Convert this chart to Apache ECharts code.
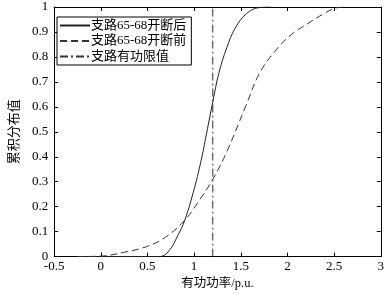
<!DOCTYPE html>
<html>
<head>
<meta charset="utf-8">
<script src="https://cdn.jsdelivr.net/npm/echarts@6/dist/echarts.min.js"></script>
<style>
  html, body { margin: 0; padding: 0; background: #fff; }
  #chart { width: 387px; height: 295px; }
</style>
</head>
<body>
<div id="chart"></div>
<script>
const seriesNames = ['支路65-68开断后', '支路65-68开断前', '支路有功限值']

// 开断后 累积分布 [有功功率, 累积概率]
const afterCurve = [
  [-0.25, 0], [0.5, 0], [0.63, 0], [0.73, 0.023], [0.83, 0.088], [0.9, 0.146],
  [0.99, 0.256], [1.075, 0.385], [1.144, 0.514], [1.2, 0.62], [1.265, 0.735],
  [1.35, 0.837], [1.44, 0.915], [1.56, 0.973], [1.7, 0.998], [1.82, 1]
]

// 开断前
const beforeCurve = [
  [-0.25, 0], [0, 0.002], [0.245, 0.017], [0.49, 0.04], [0.69, 0.077], [0.9, 0.146],
  [1.04, 0.217], [1.2, 0.31], [1.35, 0.42], [1.55, 0.6], [1.7, 0.734], [1.87, 0.824],
  [2.04, 0.889], [2.22, 0.934], [2.39, 0.973], [2.53, 0.997], [2.63, 1]
]

// 有功限值
const limitLine = [[1.2, 0], [1.2, 1]]

const xMin = -0.5, xMax = 3, xStep = 0.5
const yMin = 0, yMax = 1, yStep = 0.1

const chart = echarts.init(document.getElementById('chart'))

const serifCjk = 'Liberation Serif, Noto Sans CJK SC'
const numFont = { color: '#000', fontSize: 13, fontFamily: 'Liberation Serif' }
const axisLine = { show: true, onZero: false, lineStyle: { color: '#000', width: 1 } }
const axisTick = { show: true, inside: true, length: 4, lineStyle: { color: '#000' } }

function fmt(v) {
  return String(Math.round(v * 10) / 10)
}

chart.setOption({
  animation: false,
  backgroundColor: '#fff',
  grid: { left: 45, right: 5, top: 7, bottom: 29 },
  legend: {
    orient: 'vertical',
    left: 57,
    top: 17,
    padding: [2, 5, 2, 2],
    itemGap: 2.5,
    itemWidth: 30,
    itemHeight: 14,
    borderColor: '#000',
    borderWidth: 1,
    backgroundColor: '#fff',
    data: seriesNames,
    itemStyle: { opacity: 0 },
    textStyle: { color: '#000', fontSize: 13, fontFamily: serifCjk, padding: [0, 0, 0, -4] }
  },
  xAxis: [
    {
      type: 'value', min: xMin, max: xMax, interval: xStep,
      name: '有功功率/p.u.', nameLocation: 'middle', nameGap: 17,
      nameTextStyle: { color: '#000', fontSize: 12.5, fontFamily: serifCjk },
      axisLine, axisTick,
      axisLabel: { ...numFont, margin: 3, formatter: fmt },
      splitLine: { show: false }
    },
    {
      type: 'value', min: xMin, max: xMax, interval: xStep, position: 'top',
      axisLine, axisTick, axisLabel: { show: false }, splitLine: { show: false }
    }
  ],
  yAxis: [
    {
      type: 'value', min: yMin, max: yMax, interval: yStep,
      name: '累积分布值', nameLocation: 'middle', nameGap: 31,
      nameTextStyle: { color: '#000', fontSize: 13, fontFamily: serifCjk },
      axisLine, axisTick,
      axisLabel: { ...numFont, margin: 6, formatter: fmt },
      splitLine: { show: false }
    },
    {
      type: 'value', min: yMin, max: yMax, interval: yStep, position: 'right',
      axisLine, axisTick, axisLabel: { show: false }, splitLine: { show: false }
    }
  ],
  series: [
    {
      name: seriesNames[0], type: 'line', data: afterCurve,
      smooth: 0.4, symbol: 'none',
      itemStyle: { color: '#222' },
      lineStyle: { color: '#222', width: 1 }
    },
    {
      name: seriesNames[1], type: 'line', data: beforeCurve,
      smooth: 0.4, symbol: 'none',
      itemStyle: { color: '#333' },
      lineStyle: { color: '#333', width: 1, type: [7, 4] }
    },
    {
      name: seriesNames[2], type: 'line', data: limitLine,
      symbol: 'none',
      itemStyle: { color: '#333' },
      lineStyle: { color: '#333', width: 1, type: [8, 3, 2, 3] }
    }
  ]
})
</script>
</body>
</html>
